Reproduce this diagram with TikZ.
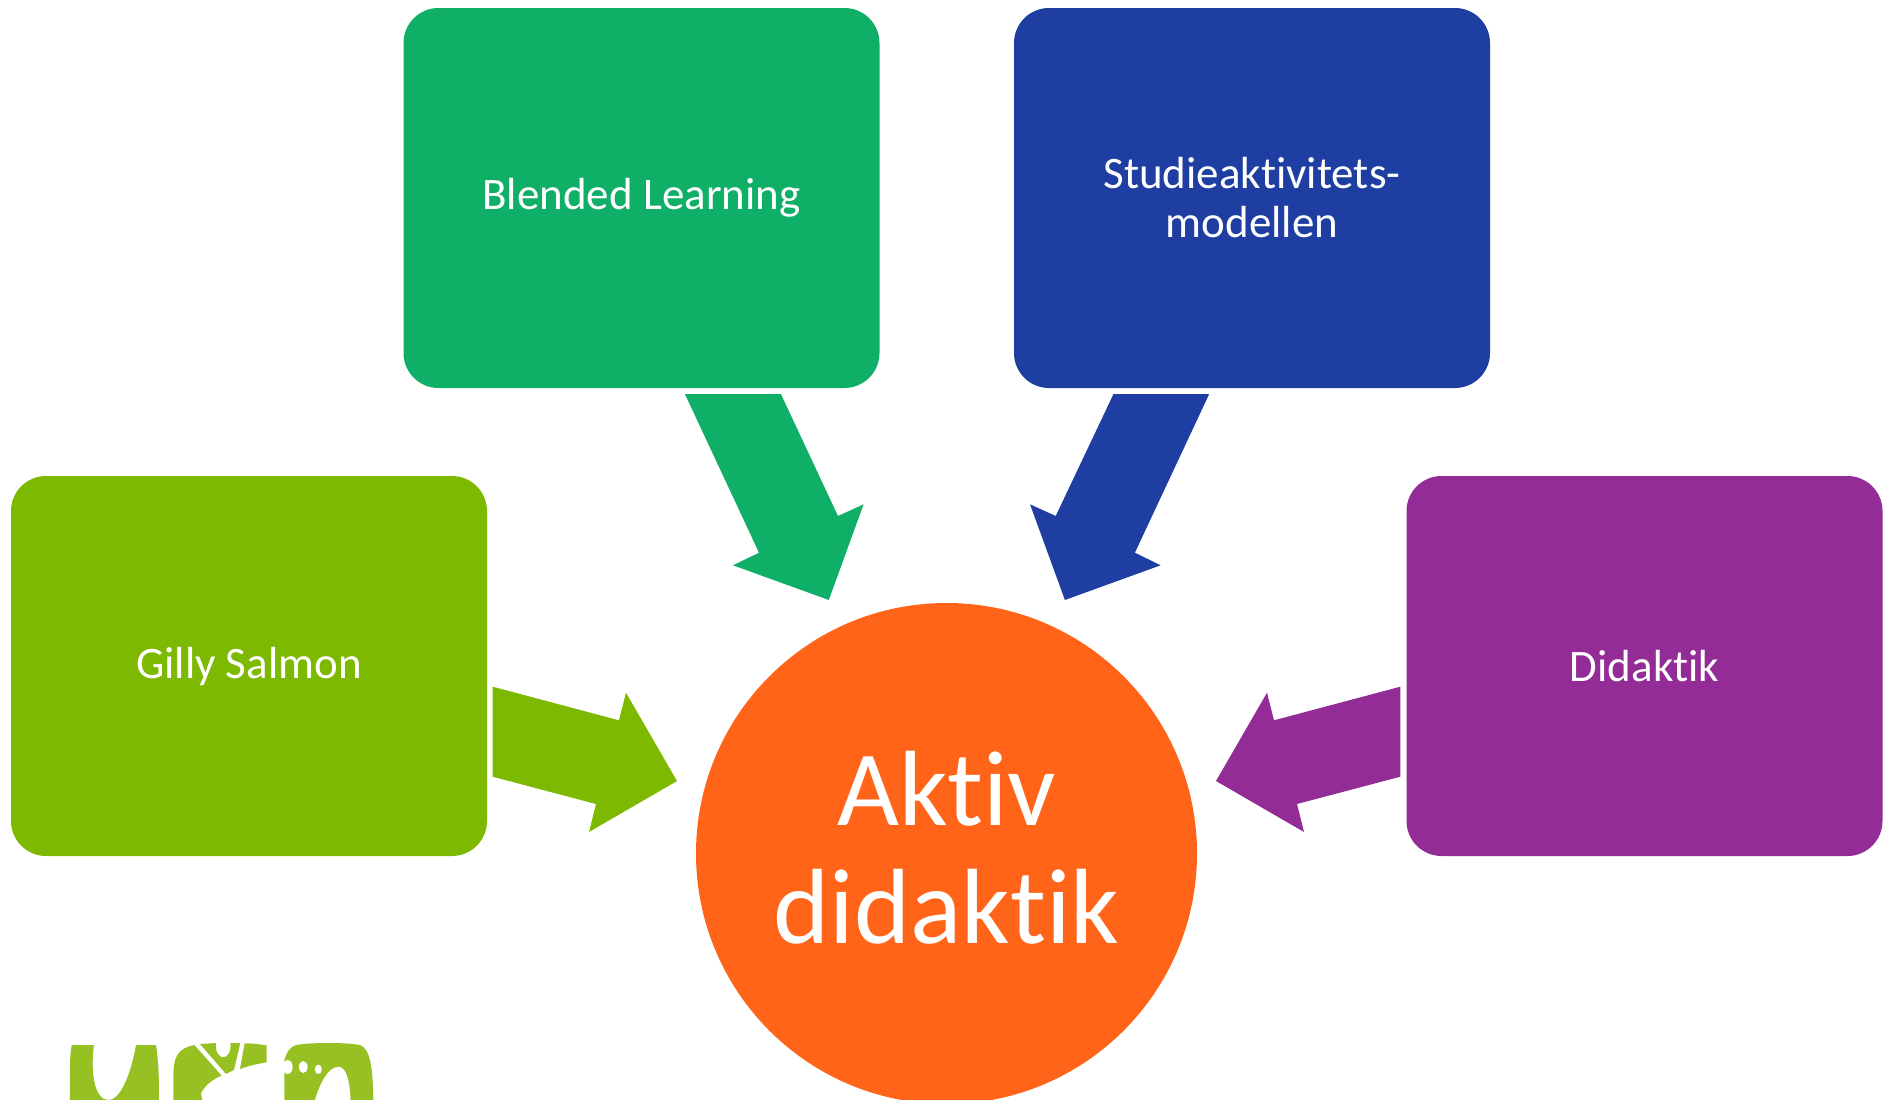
\documentclass[tikz,border=0pt]{standalone}
\usepackage{fontspec}
\setmainfont[Ligatures={NoCommon}]{Carlito}
\definecolor{cgreen}{HTML}{0FAF67}
\definecolor{cblue}{HTML}{1E3EA2}
\definecolor{clime}{HTML}{7CB900}
\definecolor{cpurple}{HTML}{932C96}
\definecolor{corange}{HTML}{FF6418}
\definecolor{clogo}{HTML}{97C122}
\tikzset{
  card/.style={rectangle,rounded corners=35pt,minimum width=476pt,minimum height=380pt,text=white,align=center,inner sep=0pt,font=\fontsize{45pt}{49pt}\selectfont},
  hub/.style={circle,fill=corange,minimum size=501pt,inner sep=0pt,text=white,align=center,font=\fontsize{107pt}{118pt}\selectfont},
  blockarrow/.style={draw=none}
}
\begin{document}
\begin{tikzpicture}[x=1pt,y=-1pt]
\useasboundingbox (0,0) rectangle (1887,1100);
\begin{scope}
\clip (0,0) rectangle (1887,1100);
\node[hub] (hub) at (946.5,853.5) {\raisebox{12pt}{Aktiv}\\\raisebox{12pt}{didaktik}};
\node[card,fill=cgreen] (blended) at (641.5,198) {Blended Learning};
\node[card,fill=cblue] (studie) at (1252,198) {Studieaktivitets-\\modellen};
\node[card,fill=clime] (gilly) at (249,666) {Gilly Salmon};
\node[card,fill=cpurple] (didaktik) at (1644.5,666) {Didaktik};
\fill[cgreen,blockarrow] (684.9,394) -- (780.9,394) -- (838,516) -- (863.6,504.3) -- (828.8,600) -- (733,565.3) -- (759,552.7) -- cycle;
\fill[cblue,blockarrow] (1113.5,394) -- (1209.2,394) -- (1134.9,552.7) -- (1160.6,565.3) -- (1064.9,600) -- (1030,504.3) -- (1055.7,516) -- cycle;
\fill[clime,blockarrow] (492.7,686.7) -- (619,720.3) -- (626,692.7) -- (677,781) -- (589,832) -- (596,804) -- (492.7,776.7) -- cycle;
\fill[cpurple,blockarrow] (1400.3,686.7) -- (1274,720.3) -- (1267,692.7) -- (1216,781) -- (1304,832) -- (1297,804) -- (1400.3,776.7) -- cycle;
% logo, in the 3x crop's coordinates
\begin{scope}[shift={(40,1010)},x=0.3333pt,y=-0.3333pt]
\fill[clogo] (95,105) -- (162,105) .. controls (150,190) and (165,270) .. (205,270) .. controls (245,270) and (275,180) .. (288,105) -- (348,105) .. controls (358,170) and (357,230) .. (357,290) -- (90,290) -- (90,170) .. controls (90,145) and (92,125) .. cycle;
\fill[clogo] (463,105) .. controls (420,115) and (400,130) .. (400,200) -- (400,290) -- (490,290) -- (483,250) .. controls (495,225) and (520,207) .. (545,197) -- cycle;
\fill[clogo] (480,102) -- (528,99) .. controls (525,130) and (540,142) .. (550,142) .. controls (562,142) and (575,125) .. (571,99) -- (601,99) -- (582,180) -- (558,192) -- cycle;
\fill[clogo] (614,100) .. controls (640,100) and (660,103) .. (680,106) -- (680,157) .. controls (650,162) and (625,168) .. (600,177) -- cycle;
\fill[clogo] (733,150) .. controls (740,130) and (745,112) .. (770,105) .. controls (810,97) and (920,97) .. (960,105) .. controls (990,115) and (1000,170) .. (1000,290) -- (932,290) .. controls (932,200) and (915,170) .. (895,170) .. controls (860,170) and (830,240) .. (820,290) -- (733,290) -- cycle;
\fill[white] (743,171) ellipse (15 and 21);
\fill[white] (790,171) ellipse (13 and 18);
\fill[white] (835,178) ellipse (10.5 and 14);
\end{scope}
\end{scope}
\end{tikzpicture}
\end{document}
